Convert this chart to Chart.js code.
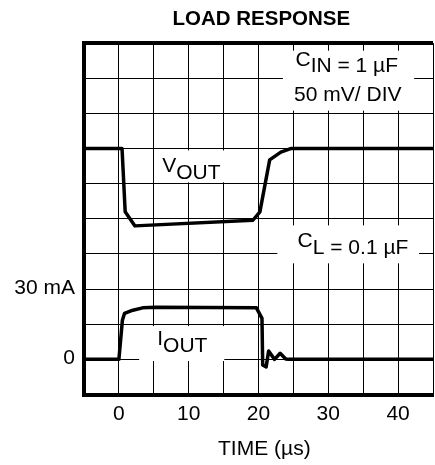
<!DOCTYPE html>
<html>
<head>
<meta charset="utf-8">
<script src="https://cdn.jsdelivr.net/npm/chart.js@4"></script>
<style>
html, body { margin: 0; padding: 0; background: #FFFFFF; overflow: hidden; }
</style>
</head>
<body>
<canvas id="myChart" width="440" height="465"></canvas>
<script>
// time axis in µs, gridlines every 5 µs, labels every 10
const X_MIN = -5;
const X_MAX = 45;
const X_LABELS = [0, 10, 20, 30, 40];
// left axis is load current, 15 mA per division
const Y_MIN = -15;
const Y_MAX = 135;
const Y_LABELS = { 0: "0", 30: "30 mA" };

// output voltage deviation (mV), 50 mV per division
const voutTime = [-5, 0.45, 0.9, 2.3, 19.2, 20.2, 21.6, 23.2, 24.6, 45];
const voutMv = [0, 0, -90, -110, -102, -90, -16, -5, 0, 0];

// load current step (mA)
const ioutTime = [-5, 0, 0.5, 0.8, 2.0, 3.4, 5.3, 19.7, 20.5, 20.6, 21.1, 21.45, 22.3, 23.1, 23.9, 24.3, 45];
const ioutMa = [0, 0, 16.7, 19.6, 21.0, 22.0, 22.3, 22.0, 17.5, -2.4, -3.2, 3.6, 0.0, 2.6, 0.2, 0, 0];

const BLACK = "#000000";
const WHITE = "#FFFFFF";
const FONT = "'Liberation Sans', Arial, Helvetica, sans-serif";
const TEXT_SIZE = 21;

// text labels inside the grid: left edge (µs), baseline (mA), parts [text, raise px]
const LABELS = [
    { t: 25.3, v: 122.5, parts: [["C", 6], ["IN", 0], [" = 1 µF", 0]] },
    { t: 25.1, v: 110.5, parts: [["50 mV/ DIV", 0]] },
    { t: 6.2, v: 77.1, parts: [["V", 6.6], ["OUT", 0]] },
    { t: 25.6, v: 45.2, parts: [["C", 6.6], ["L", 0], [" = 0.1 µF", 0]] },
    { t: 5.5, v: 3.2, parts: [["I", 6.7], ["OUT", 0]] }
];
// white patches behind the labels: [t0, t1, top mA, bottom mA]
const LABEL_BOXES = [
    [23.5, 42.3, 131.8, 106.2],
    [5.76, 15.25, 89.2, 75.6],
    [22.7, 43, 57.2, 41.0],
    [2.9, 15.1, 14.2, -0.7]
];

Chart.defaults.font.family = FONT;
Chart.defaults.color = BLACK;

// draws the white label patches under the traces and the labels on top
const labelsPlugin = {
    id: 'labelsPlugin',
    beforeDatasetsDraw(chart) {
        const { ctx, scales: { x, y } } = chart;
        ctx.save();
        ctx.fillStyle = WHITE;
        LABEL_BOXES.forEach(b => {
            const left = x.getPixelForValue(b[0]);
            const right = x.getPixelForValue(b[1]);
            const top = y.getPixelForValue(b[2]);
            const bottom = y.getPixelForValue(b[3]);
            ctx.fillRect(left, top, right - left, bottom - top);
        });
        ctx.restore();
    },
    afterDatasetsDraw(chart) {
        const { ctx, scales: { x, y } } = chart;
        ctx.save();
        ctx.font = `${TEXT_SIZE}px ${FONT}`;
        ctx.fillStyle = BLACK;
        ctx.textAlign = 'left';
        ctx.textBaseline = 'alphabetic';
        LABELS.forEach(label => {
            let px = x.getPixelForValue(label.t);
            const py = y.getPixelForValue(label.v);
            label.parts.forEach(([text, raise]) => {
                ctx.fillText(text, px, py - raise);
                px += ctx.measureText(text).width;
            });
        });
        ctx.restore();
    }
};

const toPoints = (xs, ys) => xs.map((t, i) => ({ x: t, y: ys[i] }));

new Chart("myChart", {
    type: 'line',
    data: {
        datasets: [{
            label: 'VOUT',
            data: toPoints(voutTime, voutMv),
            yAxisID: 'yv',
            borderColor: BLACK,
            borderWidth: 3.5,
            borderJoinStyle: 'round',
            pointRadius: 0,
            tension: 0
        }, {
            label: 'IOUT',
            data: toPoints(ioutTime, ioutMa),
            yAxisID: 'y',
            borderColor: BLACK,
            borderWidth: 3.5,
            borderJoinStyle: 'round',
            pointRadius: 0,
            tension: 0
        }]
    },
    options: {
        responsive: false,
        devicePixelRatio: 1,
        animation: false,
        layout: { padding: { left: 0, right: 3, top: 0, bottom: 0 } },
        scales: {
            x: {
                type: 'linear',
                min: X_MIN,
                max: X_MAX,
                afterFit(scale) { scale.height = 70.5; },
                ticks: {
                    stepSize: 5,
                    autoSkip: false,
                    maxRotation: 0,
                    padding: 7,
                    font: { size: TEXT_SIZE },
                    callback: value => X_LABELS.includes(value) ? String(value) : ''
                },
                grid: { color: BLACK, lineWidth: 1, drawTicks: false },
                border: { color: BLACK, width: 4 },
                title: {
                    display: true,
                    // leading spaces nudge the title right, as in the original
                    text: '  TIME (µs)',
                    color: BLACK,
                    font: { size: TEXT_SIZE },
                    padding: { top: 0, bottom: 3 }
                }
            },
            y: {
                type: 'linear',
                min: Y_MIN,
                max: Y_MAX,
                afterFit(scale) { scale.width = 84; },
                ticks: {
                    stepSize: 15,
                    padding: 9,
                    labelOffset: -1,
                    font: { size: TEXT_SIZE },
                    callback: value => Y_LABELS[value] !== undefined ? Y_LABELS[value] : ''
                },
                grid: {
                    color: BLACK,
                    drawTicks: false,
                    lineWidth: context => context.tick && context.tick.value === Y_MAX ? 4 : 1
                },
                border: { color: BLACK, width: 4 }
            },
            yv: {
                type: 'linear',
                display: false,
                min: -350,
                max: 150
            }
        },
        plugins: {
            legend: { display: false },
            tooltip: { enabled: false },
            title: {
                display: true,
                text: ' LOAD RESPONSE',
                fullSize: false,
                color: BLACK,
                font: { size: 20.5, weight: 'bold' },
                padding: { top: 7, bottom: 11.6 }
            }
        }
    },
    plugins: [labelsPlugin]
});
</script>
</body>
</html>
